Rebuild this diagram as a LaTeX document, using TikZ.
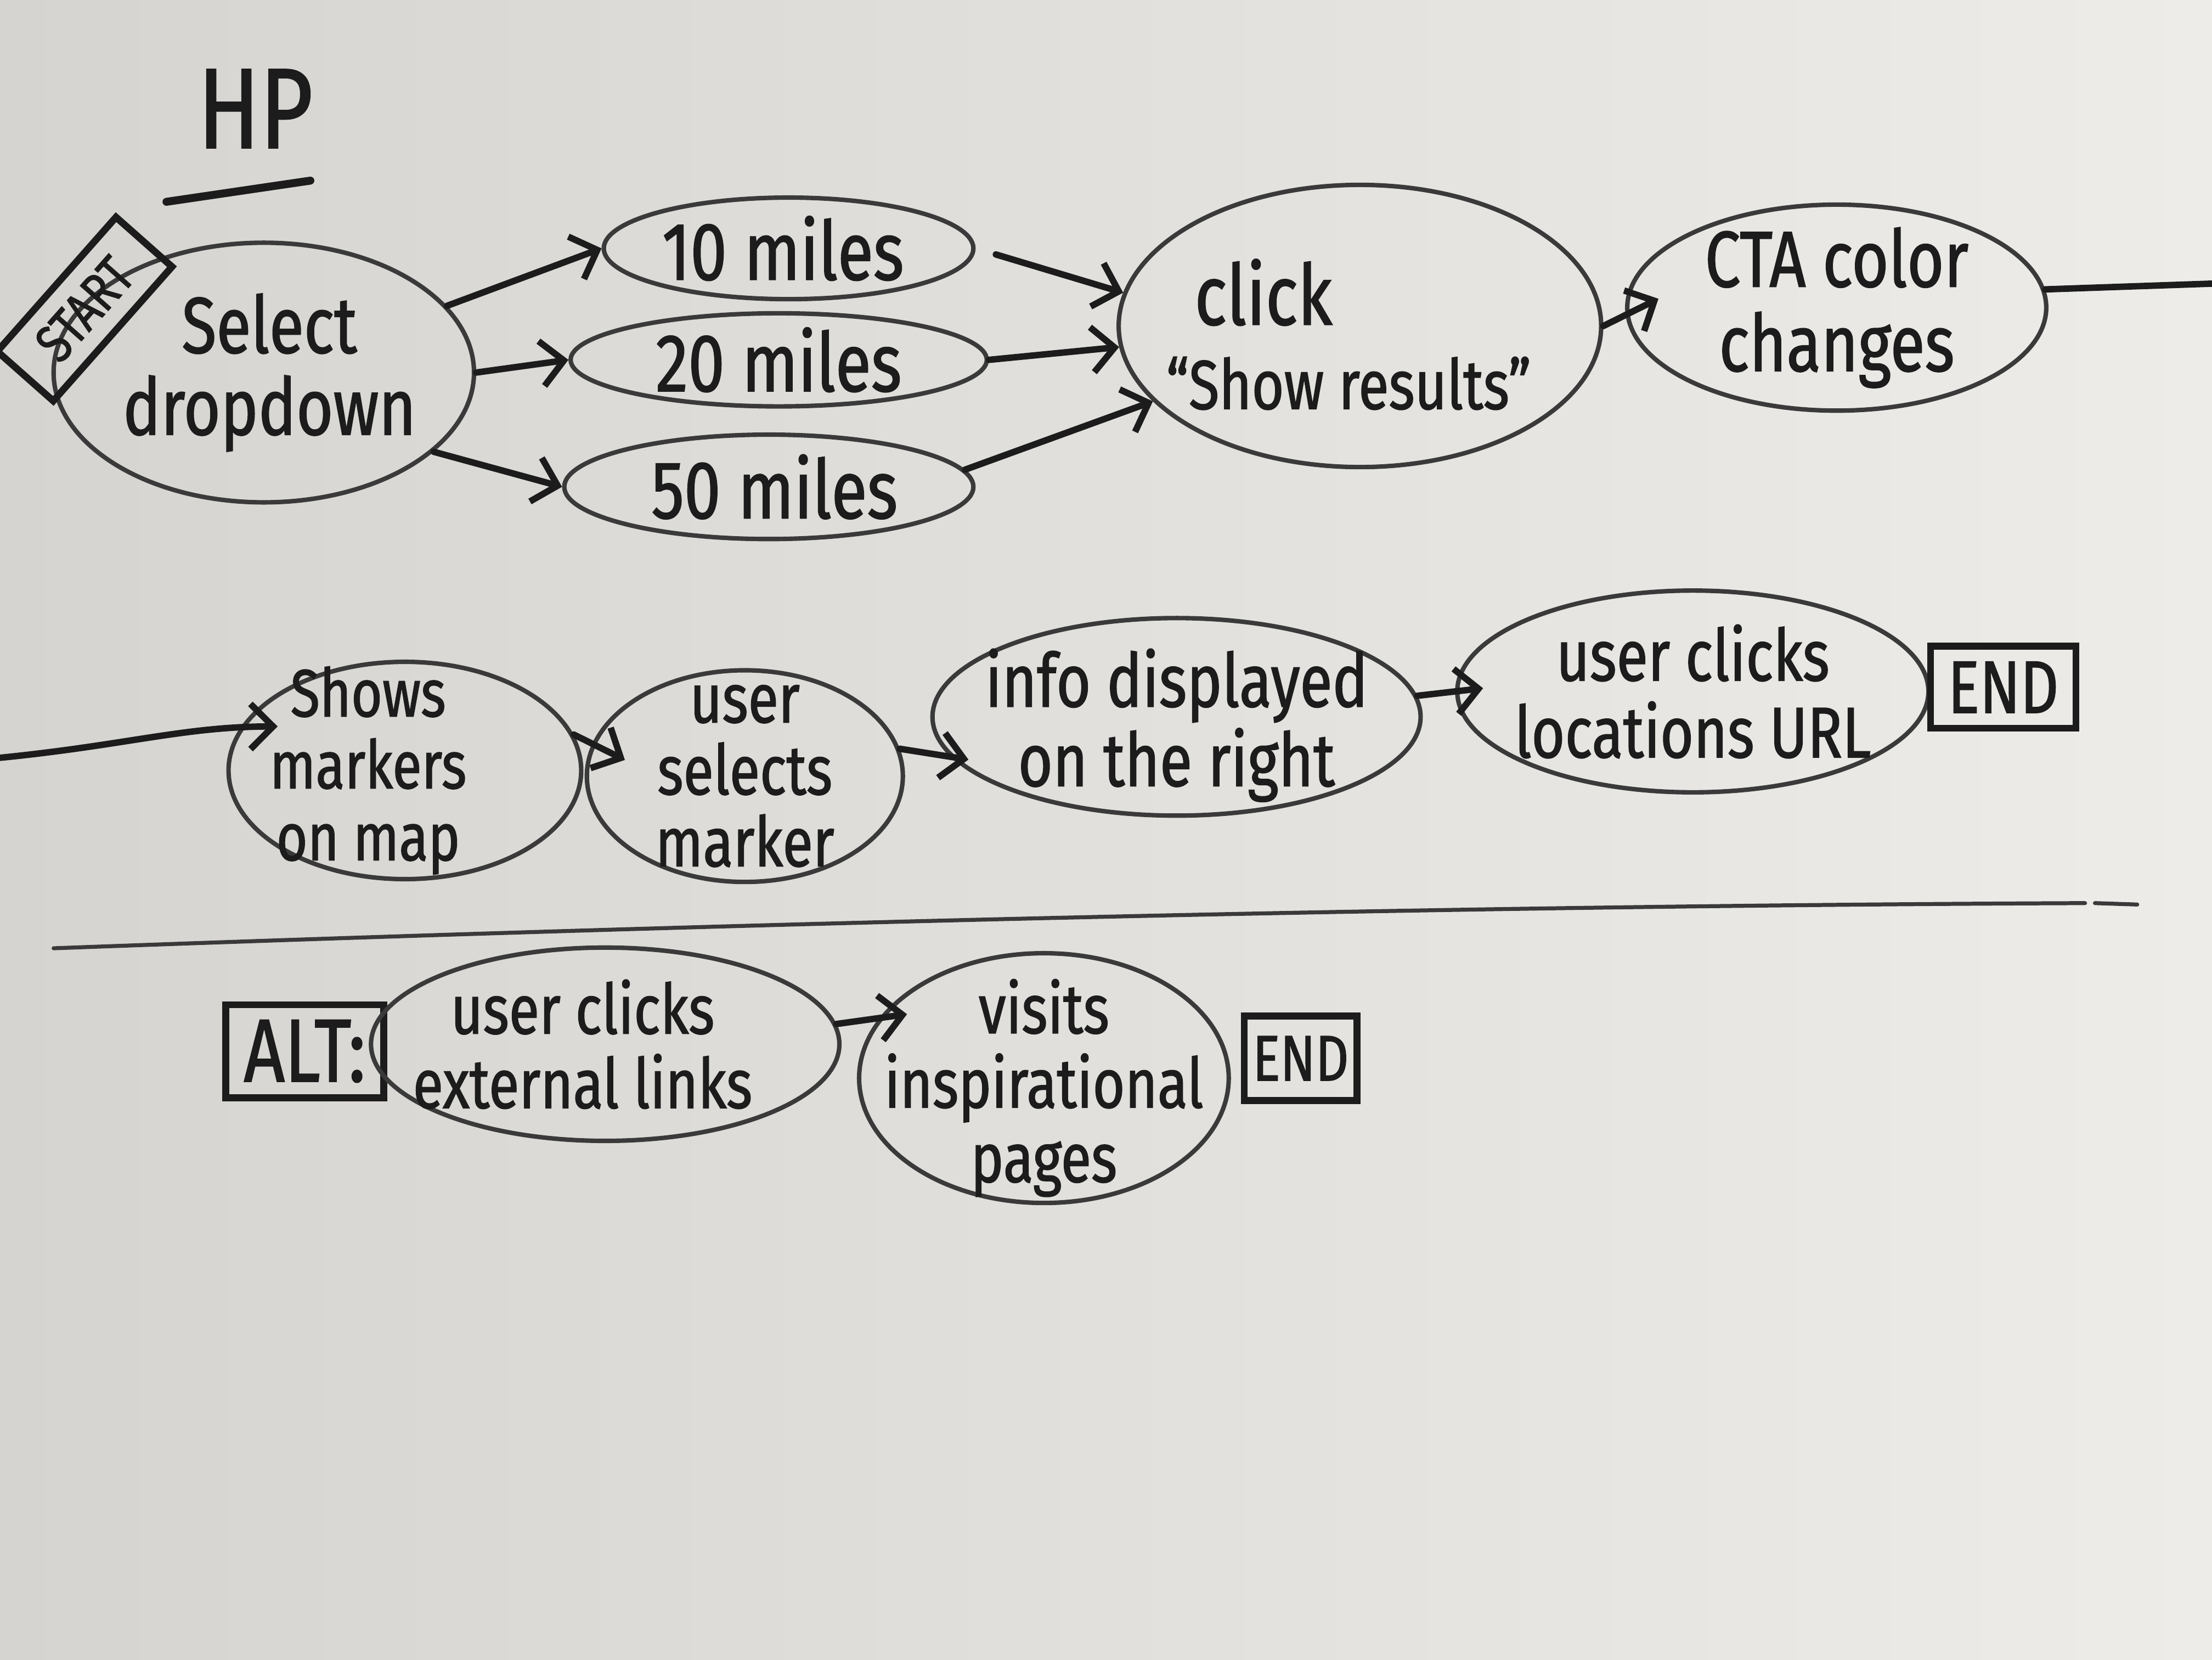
\documentclass[tikz,border=0pt]{standalone}
\usepackage{fontspec}
\setmainfont{Fira Sans}[FakeStretch=0.8, FakeBold=1.2]
\usetikzlibrary{shapes.geometric, arrows.meta}
\definecolor{ink}{HTML}{1C1C1C}
\definecolor{pencil}{HTML}{3A3A3A}
\definecolor{paperL}{HTML}{D6D4D0}
\definecolor{paperR}{HTML}{EDECE9}
\newcommand\fsz[2]{\fontsize{#1}{#2}\selectfont}
\begin{document}
\begin{tikzpicture}[x=0.1mm, y=-0.1mm,
  bub/.style 2 args={ellipse, draw=pencil, line width=0.9pt, minimum width=#1*0.1mm, minimum height=#2*0.1mm, inner sep=0pt},
  lbl/.style={text=ink, align=center, inner sep=0pt},
  boxnode/.style={draw=ink, line width=1.4pt, inner sep=0pt, text=ink},
  arr/.style={draw=ink, line width=1.3pt, line cap=round, -{Straight Barb[length=1.6mm, width=3.2mm]}},
  wire/.style={draw=ink, line width=1.3pt, line cap=round}]
\useasboundingbox (0,0) rectangle (1568,1176);
\shade[left color=paperL, right color=paperR] (0,0) rectangle (1568,1176);

% title
\node[lbl, font=\fsz{23}{23}] (hp) at (181,77) {HP};
\draw[wire, line width=1.6pt] (118,143) -- (220,128);

% row 1
\node[bub={298}{184}, label={[lbl,font=\fsz{16}{16.5},xshift=0.4mm]center:{Select\\dropdown}}] (sel) at (187,264) {};
\node[boxnode, rotate=48.5, minimum width=12.7mm, minimum height=5.3mm, font=\fsz{11}{11}] (start) at (60,219) {START};

\node[bub={262}{72}, label={[lbl,font=\fsz{16.5}{16.5},xshift=-0.4mm]center:{10 miles}}] (m10) at (559,176) {};
\node[bub={295}{66}, label={[lbl,font=\fsz{16.5}{16.5}]center:{20 miles}}] (m20) at (552,255) {};
\node[bub={290}{74}, label={[lbl,font=\fsz{16.5}{16.5},xshift=0.4mm]center:{50 miles}}] (m50) at (545,345) {};

\node[bub={342}{200}, label={[lbl,align=left,font=\fsz{14}{17},xshift=-0.8mm,yshift=-0.6mm]center:{\hspace*{2mm}{\fsz{17}{17}click}\\“Show results”}}] (click) at (964,231) {};
\node[bub={297}{146}, label={[lbl,font=\fsz{16}{17}]center:{CTA color\\changes}}] (cta) at (1302,218) {};
\coordinate (outR) at (1568,201);

% row 2
\coordinate (inL) at (0,537);
\node[bub={250}{154}, label={[lbl,font=\fsz{13.5}{14.5},xshift=-2.6mm]center:{Shows\\markers\\on map}}] (shows) at (287,546) {};
\node[bub={224}{150}, label={[lbl,font=\fsz{14}{14.5}]center:{user\\selects\\marker}}] (usel) at (528,550) {};
\node[bub={346}{140}, label={[lbl,font=\fsz{15}{16},yshift=-0.6mm]center:{info displayed\\on the right}}] (info) at (834,508) {};
\node[bub={334}{143}, label={[lbl,font=\fsz{14.5}{15.5}]center:{user clicks\\locations URL}}] (url) at (1200,490) {};
\node[boxnode, minimum width=10.3mm, minimum height=5.8mm, font=\fsz{15}{15}] (end1) at (1420,487) {END};

% divider
\draw[draw=pencil, line width=0.8pt, line cap=round] (38,672) .. controls (500,655) and (1000,642) .. (1478,640);
\draw[draw=pencil, line width=0.8pt, line cap=round] (1485,640) -- (1515,641);

% row 3
\node[boxnode, minimum width=11.2mm, minimum height=6.6mm, font=\fsz{18}{18}] (alt) at (216,745) {ALT:};
\node[bub={332}{137}, label={[lbl,font=\fsz{14}{15},xshift=-1.6mm]center:{user clicks\\external links}}] (ext) at (429,740) {};
\node[bub={262}{177}, label={[lbl,font=\fsz{14}{15},yshift=-0.7mm]center:{visits\\inspirational\\pages}}] (vis) at (740,764) {};
\node[boxnode, minimum width=8mm, minimum height=6mm, font=\fsz{13}{13}] (end2) at (922,750) {END};

% connectors
\draw[arr] (sel.20) -- (m10.west);
\draw[arr] (sel.east) -- (m20.west);
\draw[arr] (sel.-25) -- (m50.west);
\draw[arr, shorten <=1.5mm] (m10.east) -- (click.172);
\draw[arr] (m20.east) -- (click.185);
\draw[arr] (m50.5) -- (click.200);
\draw[arr, shorten >=-2.6mm] (click.east) -- (cta.182);
\draw[wire] (cta.5) -- (outR);
\draw[arr, shorten >=-2.6mm] (inL) .. controls (90,528) and (130,515) .. (shows.165);
\draw[arr, shorten >=-2.6mm] (shows.12) -- (usel.168);
\draw[arr, shorten >=-1.3mm] (usel.10) -- (info.190);
\draw[arr, shorten >=-2mm] (info.5) -- (url.west);
\draw[arr, shorten >=-2mm] (ext.5) -- (vis.160);
\end{tikzpicture}
\end{document}
